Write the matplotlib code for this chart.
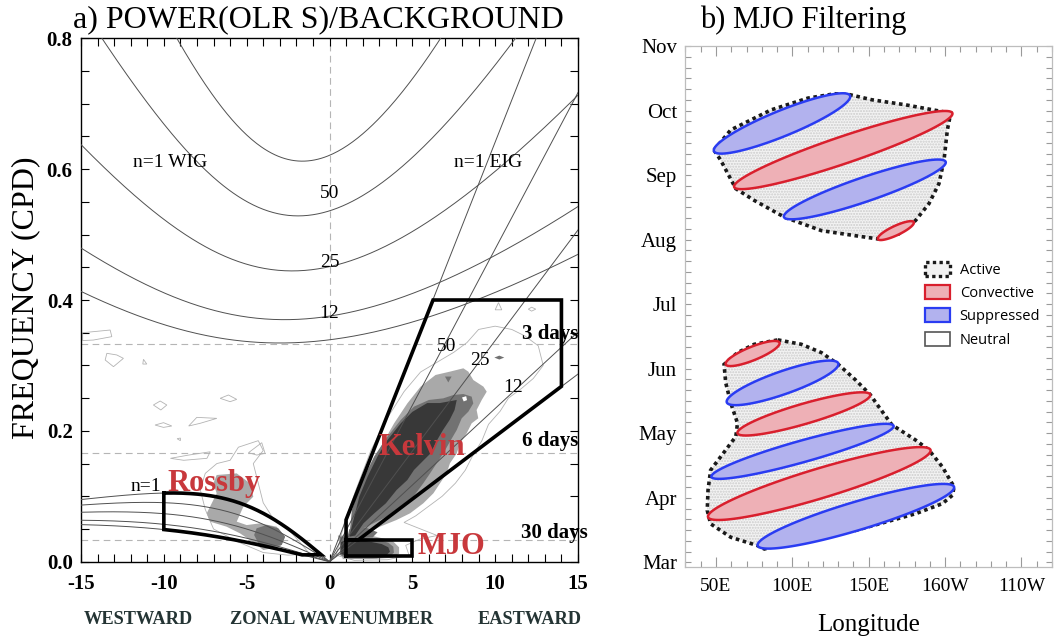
import numpy as np
import matplotlib
matplotlib.use("Agg")
import matplotlib.pyplot as plt
from matplotlib.patches import Polygon, Patch
from matplotlib.ticker import MultipleLocator

# ------------------------------------------------------------------ data
# panel a: shallow-water dispersion curves for these equivalent depths (m)
equiv_depths = [8, 12, 25, 50, 90]
ig_labels = {50: 0.563, 25: 0.458, 12: 0.379}          # label y at k=0
kelvin_labels = [("50", 7.07, 0.329), ("25", 9.08, 0.308), ("12", 11.09, 0.267)]
period_lines = [1 / 3, 1 / 6, 1 / 30]
period_text = [("3 days", 13.3, 0.348), ("6 days", 13.3, 0.1845), ("30 days", 13.6, 0.044)]

kelvin_box_k = [1, 1, 6.25, 14, 14, 1.74]
kelvin_box_f = [1 / 30, 0.064, 0.4, 0.4, 0.268, 1 / 30]
mjo_box_k = [1, 5, 5, 1, 1]
mjo_box_f = [1 / 120, 1 / 120, 1 / 30, 1 / 30, 1 / 120]
rossby_box_kmin, rossby_box_kmax = -10, -0.5
rossby_box_kbot = -1.65

# spectral power contours (wavenumber, frequency)
kelvin_outline = [(0.4, 0.01), (0.9, 0.06), (1.6, 0.11), (2.5, 0.17), (3.5, 0.22), (4.5, 0.26),
                  (5.5, 0.29), (6.5, 0.305), (7.5, 0.32), (8.3, 0.335), (9.0, 0.355), (10.0, 0.36),
                  (11.0, 0.355), (11.8, 0.345), (12.6, 0.33), (12.9, 0.30), (12.3, 0.28), (11.6, 0.265),
                  (10.8, 0.25), (10.3, 0.23), (9.6, 0.21), (9.2, 0.185), (8.6, 0.16), (8.2, 0.14),
                  (7.6, 0.12), (6.8, 0.10), (6.0, 0.085), (5.2, 0.07), (4.5, 0.06), (5.5, 0.05),
                  (6.5, 0.04), (5.5, 0.035), (4.6, 0.025), (4.8, 0.01), (3.5, 0.003), (1.5, 0.002)]
kelvin_light = [(1.1, 0.028), (1.35, 0.0638), (1.7, 0.0994), (2.3, 0.135), (3.1, 0.1758),
                (3.9, 0.2115), (4.7, 0.242), (5.5, 0.2676), (6.4, 0.2854), (7.27, 0.2905),
                (8.08, 0.2956), (8.38, 0.2905), (8.68, 0.2777), (9.29, 0.2676), (9.49, 0.2599),
                (9.19, 0.2472), (8.88, 0.2319), (8.98, 0.2192), (8.58, 0.2115), (8.28, 0.1962),
                (7.88, 0.1809), (7.68, 0.1656), (7.27, 0.1504), (7.07, 0.135), (6.67, 0.1198),
                (6.27, 0.1045), (5.66, 0.0892), (4.86, 0.0739), (4.05, 0.0638), (3.05, 0.0536),
                (2.24, 0.0434), (1.64, 0.0332)]
kelvin_medium = [(1.2, 0.0383), (1.35, 0.079), (1.9, 0.1198), (2.7, 0.161), (3.5, 0.1911),
                 (4.3, 0.2166), (5.1, 0.237), (6.0, 0.2472), (6.87, 0.2497), (7.48, 0.2548),
                 (8.08, 0.2563), (8.58, 0.2523), (8.68, 0.242), (8.38, 0.2293), (7.98, 0.2192),
                 (7.68, 0.2013), (7.27, 0.1835), (6.87, 0.1656), (6.47, 0.1504), (6.07, 0.135),
                 (5.66, 0.1198), (5.06, 0.0994), (4.26, 0.0841), (3.45, 0.0688), (2.65, 0.0587),
                 (1.84, 0.0485), (1.34, 0.0332)]
kelvin_medium_spots = [[(6.97, 0.283), (7.37, 0.283), (7.17, 0.274)],
                       [(9.95, 0.312), (10.25, 0.315), (10.55, 0.312), (10.25, 0.309)],
                       [(1.2, 0.05), (2.2, 0.052), (2.9, 0.045), (2.6, 0.037), (1.5, 0.036), (1.1, 0.04)]]
kelvin_dark = [(1.2, 0.0383), (1.4, 0.059), (1.8, 0.0995), (2.3, 0.130), (2.9, 0.161),
               (3.5, 0.186), (4.3, 0.2115), (5.0, 0.229), (5.9, 0.2425), (6.67, 0.2425),
               (7.68, 0.2472), (7.55, 0.2319), (7.25, 0.2166), (6.85, 0.2013), (6.5, 0.186),
               (6.1, 0.1656), (5.7, 0.1555), (5.1, 0.1402), (4.7, 0.1249), (4.05, 0.1096),
               (3.4, 0.0892), (2.7, 0.0739), (2.05, 0.0586), (1.55, 0.040)]
kelvin_hole = [(8.0, 0.251), (8.25, 0.253), (8.3, 0.247), (8.1, 0.245)]
mjo_light = [(0.5, 0.04), (2.5, 0.04), (3.8, 0.032), (4.2, 0.022), (4.2, 0.012),
             (3.8, 0.006), (2.5, 0.004), (0.8, 0.004)]
mjo_medium = [(0.63, 0.0383), (1.84, 0.0372), (2.85, 0.0342), (3.55, 0.029), (3.85, 0.023),
              (3.89, 0.0138), (3.65, 0.0087), (2.85, 0.0051), (1.04, 0.0051), (0.63, 0.0102)]
mjo_dark = [(0.7, 0.03), (0.996, 0.0332), (1.64, 0.0342), (2.45, 0.0306), (3.15, 0.027),
            (3.55, 0.022), (3.65, 0.0153), (3.45, 0.0102), (2.85, 0.0077), (1.84, 0.0077),
            (1.04, 0.0087), (0.7, 0.012)]
rossby_outline = [(-7.5, 0.135), (-6.8, 0.15), (-6.0, 0.155), (-5.5, 0.175), (-4.3, 0.185),
                  (-4.0, 0.17), (-4.6, 0.15), (-4.3, 0.12), (-4.0, 0.09), (-3.5, 0.07), (-2.5, 0.05),
                  (-1.8, 0.03), (-1.2, 0.012), (-2.5, 0.01), (-4.0, 0.014), (-5.5, 0.03),
                  (-7.0, 0.05), (-7.5, 0.08), (-7.8, 0.11)]
rossby_light = [(-6.81, 0.1325), (-5.6, 0.135), (-4.8, 0.1198), (-4.6, 0.0994), (-5.2, 0.0841),
                (-5.6, 0.0612), (-5.0, 0.056), (-4.19, 0.0586), (-3.19, 0.0535), (-2.68, 0.0382),
                (-2.98, 0.0229), (-3.99, 0.0179), (-4.8, 0.0331), (-5.4, 0.0433), (-6.21, 0.0535),
                (-7.21, 0.0612), (-7.41, 0.074), (-7.11, 0.0892), (-6.81, 0.1045), (-7.01, 0.1198)]
rossby_medium = [(-4.4, 0.0510), (-3.79, 0.0561), (-3.09, 0.0510), (-2.68, 0.0382), (-2.88, 0.0255),
                 (-3.59, 0.0219), (-4.29, 0.028), (-4.55, 0.0408)]
scatter_outlines = [
    [(-14.9, 0.35), (-13.24, 0.3541), (-13.14, 0.344), (-14.25, 0.3388), (-14.9, 0.338)],
    [(-13.44, 0.3185), (-12.84, 0.316), (-12.44, 0.3108), (-13.04, 0.2981), (-13.54, 0.3083)],
    [(-11.23, 0.3093), (-11.03, 0.3021), (-11.27, 0.3021)],
    [(-10.63, 0.2395), (-10.22, 0.2456), (-9.82, 0.2395), (-10.18, 0.2319)],
    [(-6.6, 0.2497), (-6.1, 0.2548), (-5.6, 0.2481), (-6.0, 0.2446)],
    [(-10.53, 0.2089), (-10.02, 0.2125), (-9.52, 0.2074), (-10.02, 0.2053)],
    [(-8.5, 0.2074), (-8.01, 0.2206), (-6.8, 0.2191), (-7.81, 0.2115)],
    [(-9.2, 0.188), (-9.0, 0.189), (-9.0, 0.185)],
    [(-4.89, 0.1666), (-4.09, 0.1819), (-3.89, 0.1656), (-4.39, 0.163)],
    [(-9.6, 0.158), (-8.5, 0.163), (-7.2, 0.168), (-7.4, 0.158), (-8.8, 0.155)],
    [(10.0, 0.385), (10.2, 0.396), (10.4, 0.385)],
    [(12.0, 0.386), (12.2, 0.389), (12.45, 0.386), (12.2, 0.383)],
]

# panel b: MJO filtering (longitude in deg E, time in months since 1 Mar)
months = ["Mar", "Apr", "May", "Jun", "Jul", "Aug", "Sep", "Oct", "Nov"]
lon_ticks = [50, 100, 150, 200, 250]
lon_labels = ["50E", "100E", "150E", "160W", "110W"]
active_autumn_lon = [48.7, 59.7, 86.1, 110.3, 127.9, 137.8, 152.0, 174.0, 203.7, 201.5, 199.3, 196.0,
                     189.4, 180.6, 169.6, 156.4, 141.1, 119.1, 94.9, 75.1, 63.0, 53.1]
active_autumn_t = [6.387, 6.70, 7.01, 7.193, 7.26, 7.245, 7.167, 7.089, 6.96, 6.70, 6.231, 5.867,
                   5.555, 5.295, 5.087, 5.009, 5.061, 5.139, 5.347, 5.607, 5.789, 6.231]
active_spring_lon = [90.5, 105.9, 119.1, 130.1, 141.1, 151.0, 156.4, 165.2, 180.6, 189.4, 198.2, 205.9,
                     204.8, 198.2, 180.6, 141.1, 108.1, 81.7, 77.3, 59.7, 46.5, 44.3, 44.8, 46.5,
                     53.1, 63.0, 64.1, 59.7, 56.4, 55.3, 64.1, 75.1]
active_spring_t = [3.446, 3.378, 3.248, 3.066, 2.832, 2.598, 2.416, 2.13, 1.896, 1.74, 1.48, 1.168,
                   1.038, 0.908, 0.752, 0.492, 0.362, 0.206, 0.258, 0.388, 0.596, 0.804, 1.116, 1.428,
                   1.636, 1.948, 2.156, 2.468, 2.78, 3.066, 3.248, 3.378]
# anomaly bands: (lon1, t1) -> (lon2, t2), relative half-thickness, kind
band_lon1 = [48.7, 61.9, 94.5, 156.0, 56.4, 57.1, 64.1, 47.0, 44.8, 77.3]
band_t1 = [6.37, 5.815, 5.35, 5.009, 3.066, 2.478, 2.0, 1.324, 0.70, 0.258]
band_lon2 = [137.8, 204.8, 200.4, 179.5, 91.6, 130.1, 151.0, 166.3, 190.5, 205.9]
band_t2 = [7.23, 6.96, 6.205, 5.27, 3.404, 3.082, 2.598, 2.114, 1.74, 1.168]
band_width = [0.95, 1.0, 0.9, 0.35, 0.5, 0.85, 0.75, 0.8, 1.1, 1.05]
band_kind = ["sup", "conv", "sup", "conv", "conv", "sup", "conv", "sup", "conv", "sup"]

# ------------------------------------------------------------------ style
SERIF = ["Liberation Serif", "DejaVu Serif"]
RED = "#c8383c"
LIGHT, MEDIUM, DARK = "#a9a9a9", "#727272", "#383838"
CONV_EDGE, CONV_FACE = "#d91f2d", "#eeb0b6"
SUP_EDGE, SUP_FACE = "#2a3cf2", "#b2b2ee"

plt.rcParams["font.family"] = SERIF

fig = plt.figure(figsize=(10.56, 6.39), dpi=100)

# ================================================================ panel a
axa = fig.add_axes([81 / 1056, (639 - 561.7) / 639, 497 / 1056, 523.4 / 639])
axa.set_xlim(-15, 15)
axa.set_ylim(0, 0.8)

A_EARTH, G, OMEGA = 6.371e6, 9.81, 7.292e-5
BETA = 2 * OMEGA / A_EARTH
TO_CPD = 86400 / (2 * np.pi)


def roots_for(s, h):
    c = np.sqrt(G * h)
    k = s / A_EARTH
    return np.roots([1.0, 0.0, -(c * c * k * k + 3 * BETA * c), -BETA * c * c * k])


def ig_curve(s_arr, h):
    return np.array([np.max(np.real(roots_for(s, h))) for s in s_arr]) * TO_CPD


def er_curve(s_arr, h):
    out = []
    for s in s_arr:
        r = np.real(roots_for(s, h))
        out.append(r[np.argmin(np.abs(r))])
    return np.array(out) * TO_CPD


def kelvin_curve(s_arr, h):
    return np.sqrt(G * h) * (np.asarray(s_arr) / A_EARTH) * TO_CPD


s_all = np.linspace(-15, 15, 301)
s_west = np.linspace(-15, -0.02, 200)
s_east = np.linspace(0, 15, 100)
for h in equiv_depths:
    axa.plot(s_all, ig_curve(s_all, h), color="#505050", lw=0.7, zorder=3)
    axa.plot(s_west, er_curve(s_west, h), color="#505050", lw=0.7, zorder=3)
    axa.plot(s_east, kelvin_curve(s_east, h), color="#505050", lw=0.7, zorder=3)

# dashed reference lines
for f in period_lines:
    axa.axhline(f, color="#b5b5b5", lw=0.8, ls=(0, (6, 4)), zorder=1)
axa.axvline(0, color="#b5b5b5", lw=0.8, ls=(0, (6, 4)), zorder=1)


def poly(pts, **kw):
    axa.add_patch(Polygon(pts, closed=True, **kw))


for pts in [kelvin_outline, rossby_outline] + scatter_outlines:
    poly(pts, fill=False, edgecolor="#b3b3b3", lw=0.6, zorder=2)
for pts in [kelvin_light, mjo_light, rossby_light]:
    poly(pts, facecolor=LIGHT, edgecolor="none", zorder=2)
for pts in [kelvin_medium, mjo_medium, rossby_medium] + kelvin_medium_spots:
    poly(pts, facecolor=MEDIUM, edgecolor="none", zorder=2)
for pts in [kelvin_dark, mjo_dark]:
    poly(pts, facecolor=DARK, edgecolor="none", zorder=2)
poly(kelvin_hole, facecolor="white", edgecolor="none", zorder=2)

# filter boxes
axa.plot(kelvin_box_k + [kelvin_box_k[0]], kelvin_box_f + [kelvin_box_f[0]],
         color="black", lw=2.6, zorder=5, solid_joinstyle="miter")
axa.plot(mjo_box_k, mjo_box_f, color="black", lw=2.6, zorder=5, solid_joinstyle="miter")
s_top = np.linspace(rossby_box_kmin, rossby_box_kmax, 80)
s_bot = np.linspace(rossby_box_kbot, rossby_box_kmin, 80)
rk = np.concatenate([s_top, s_bot, [rossby_box_kmin]])
rf = np.concatenate([er_curve(s_top, 90), er_curve(s_bot, 8), er_curve([rossby_box_kmin], 90)])
axa.plot(rk, rf, color="black", lw=2.6, zorder=5, solid_joinstyle="miter")

# labels
for h, yv in ig_labels.items():
    axa.text(0, yv, str(h), ha="center", va="center", fontsize=14, zorder=6)
for t, xv, yv in kelvin_labels:
    axa.text(xv, yv, t, ha="center", va="center", fontsize=14, zorder=6)
axa.text(-9.63, 0.61, "n=1 WIG", ha="center", va="center", fontsize=14)
axa.text(9.57, 0.61, "n=1 EIG", ha="center", va="center", fontsize=14)
axa.text(-11.1, 0.1157, "n=1", ha="center", va="center", fontsize=14, zorder=6)
for t, xv, yv in period_text:
    axa.text(xv, yv, t, ha="center", va="center", fontsize=15, fontweight="bold", zorder=6)
axa.text(5.55, 0.1745, "Kelvin", color=RED, ha="center", va="center", fontsize=22,
         fontweight="bold", zorder=7)
axa.text(-6.97, 0.120, "Rossby", color=RED, ha="center", va="center", fontsize=22,
         fontweight="bold", zorder=7)
axa.text(7.33, 0.0225, "MJO", color=RED, ha="center", va="center", fontsize=22,
         fontweight="bold", zorder=7)

axa.xaxis.set_major_locator(MultipleLocator(5))
axa.xaxis.set_minor_locator(MultipleLocator(1))
axa.yaxis.set_major_locator(MultipleLocator(0.2))
axa.yaxis.set_minor_locator(MultipleLocator(0.05))
axa.tick_params(which="both", direction="in", top=True, right=True, length=6, width=0.8)
axa.tick_params(axis="x", pad=9)
axa.tick_params(axis="y", pad=6)
axa.set_xticks([-15, -10, -5, 0, 5, 10, 15])
axa.set_xticklabels(["-15", "-10", "-5", "0", "5", "10", "15"], fontsize=15, fontweight="bold")
axa.set_yticks([0, 0.2, 0.4, 0.6, 0.8])
axa.set_yticklabels(["0.0", "0.2", "0.4", "0.6", "0.8"], fontsize=15, fontweight="bold")
for sp in axa.spines.values():
    sp.set_linewidth(1.0)

fig.text(318 / 1056, 1 - 20 / 639, "a) POWER(OLR S)/BACKGROUND", ha="center", va="center",
         fontsize=23)
fig.text(26 / 1056, 1 - 298 / 639, "FREQUENCY (CPD)", rotation=90, ha="center", va="center",
         fontsize=23)
for t, xp in [("WESTWARD", 138), ("ZONAL WAVENUMBER", 332), ("EASTWARD", 530)]:
    fig.text(xp / 1056, 1 - 620 / 639, t, ha="center", va="center", fontsize=13.2,
             fontweight="bold", color="#243434")

# ================================================================ panel b
axb = fig.add_axes([685.4 / 1056, (639 - 566.8) / 639, 366.6 / 1056, 520.8 / 639])
axb.set_xlim(30, 270)
axb.set_ylim(-0.07, 8.0)

SX = 366.6 / 240.0   # px per degree
SY = 520.8 / 8.07    # px per month
BAND_PX = 13.5       # px per unit of band_width


def band_polygon(l1, t1, l2, t2, hw):
    p1 = np.array([l1 * SX, t1 * SY])
    p2 = np.array([l2 * SX, t2 * SY])
    c = (p1 + p2) / 2
    d = (p2 - p1) / 2
    L = np.hypot(*d)
    u = d / L
    n = np.array([-u[1], u[0]])
    tt = np.linspace(0, 2 * np.pi, 120)
    pts = c[None, :] + np.cos(tt)[:, None] * d[None, :] + (hw * BAND_PX * np.sin(tt))[:, None] * n[None, :]
    return np.column_stack([pts[:, 0] / SX, pts[:, 1] / SY])


for lons, ts in [(active_autumn_lon, active_autumn_t), (active_spring_lon, active_spring_t)]:
    pts = list(zip(lons, ts))
    axb.add_patch(Polygon(pts, closed=True, facecolor="#f3f3f3", edgecolor="none", zorder=1))
    axb.add_patch(Polygon(pts, closed=True, fill=False, edgecolor="#cccccc", lw=0,
                          hatch="......", zorder=1))
    axb.add_patch(Polygon(pts, closed=True, fill=False, edgecolor="#1a1a1a", lw=2.6,
                          ls=(0, (1, 1)), zorder=2))

for l1, t1, l2, t2, hw, kind in zip(band_lon1, band_t1, band_lon2, band_t2, band_width, band_kind):
    pts = band_polygon(l1, t1, l2, t2, hw)
    fc, ec = (CONV_FACE, CONV_EDGE) if kind == "conv" else (SUP_FACE, SUP_EDGE)
    axb.add_patch(Polygon(pts, closed=True, facecolor=fc, edgecolor=ec, lw=1.8, zorder=3))

axb.set_xticks(lon_ticks)
axb.set_xticklabels(lon_labels, fontsize=14)
axb.xaxis.set_minor_locator(MultipleLocator(10))
axb.set_yticks(range(len(months)))
axb.set_yticklabels(months, fontsize=15)
axb.yaxis.set_minor_locator(MultipleLocator(1 / 6))
axb.tick_params(which="major", direction="in", top=True, right=True, length=7, width=0.8,
                color="#9a9a9a")
axb.tick_params(which="minor", direction="in", top=True, right=True, length=4, width=0.8,
                color="#9a9a9a")
axb.tick_params(axis="y", which="major", length=4)
axb.tick_params(axis="x", pad=8)
axb.tick_params(axis="y", pad=6)
for sp in axb.spines.values():
    sp.set_color("#bdbdbd")
    sp.set_linewidth(0.9)

fig.text(803 / 1056, 1 - 20 / 639, "b) MJO Filtering", ha="center", va="center", fontsize=22)
axb.set_xlabel("Longitude", fontsize=18, labelpad=14)

handles = [
    Patch(facecolor="#f2f2f2", edgecolor="#1a1a1a", lw=2.4, ls=(0, (1, 1))),
    Patch(facecolor=CONV_FACE, edgecolor=CONV_EDGE, lw=1.6),
    Patch(facecolor=SUP_FACE, edgecolor=SUP_EDGE, lw=1.6),
    Patch(facecolor="white", edgecolor="#555555", lw=1.2),
]
leg = axb.legend(handles, ["Active", "Convective", "Suppressed", "Neutral"],
                 loc="upper left", bbox_to_anchor=(0.625, 0.605), frameon=False,
                 prop={"family": "Open Sans", "size": 10.5}, handlelength=1.7, handleheight=1.1,
                 labelspacing=0.5, handletextpad=0.7, borderpad=0.2)

fig.savefig("out.png", dpi=100)
